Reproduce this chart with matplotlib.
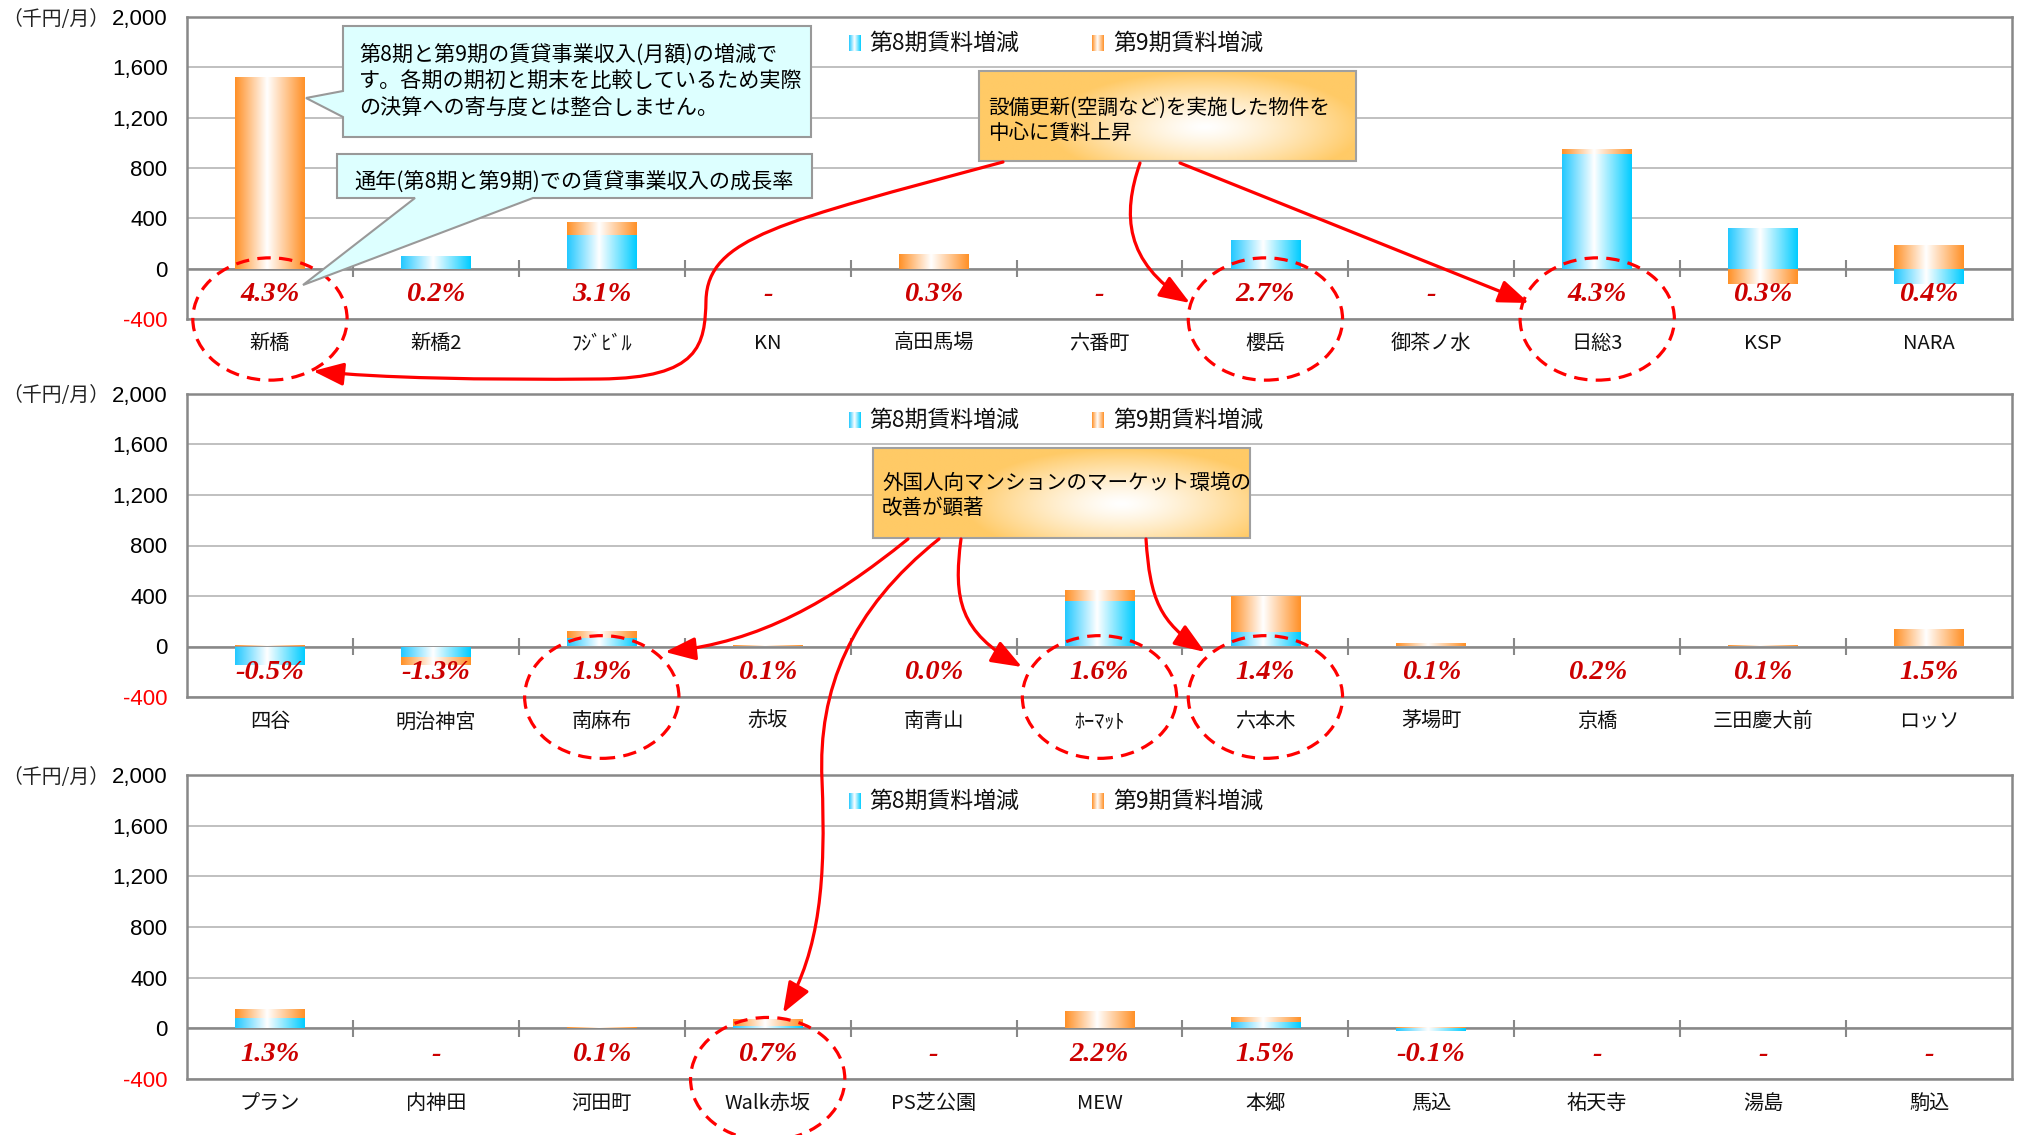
import numpy as np
import matplotlib
matplotlib.use('Agg')
import matplotlib.pyplot as plt
from matplotlib.patches import Rectangle, Ellipse, FancyArrowPatch, Polygon
from matplotlib.path import Path
from matplotlib.colors import LinearSegmentedColormap, to_rgb
import matplotlib.transforms as mtransforms

plt.rcParams['font.family'] = ['Noto Sans CJK JP', 'DejaVu Sans']

# ---------------- data ----------------
names_1 = ['新橋', '新橋2', 'ﾌｼﾞﾋﾞﾙ', 'KN', '高田馬場', '六番町', '櫻岳', '御茶ノ水', '日総3', 'KSP', 'NARA']
q8_1 = [0, 100, 270, 0, 0, 0, 230, 0, 910, 325, -120]
q9_1 = [1520, 0, 100, 0, 120, 0, 0, 0, 40, -120, 185]
rate_1 = ['4.3%', '0.2%', '3.1%', '-', '0.3%', '-', '2.7%', '-', '4.3%', '0.3%', '0.4%']

names_2 = ['四谷', '明治神宮', '南麻布', '赤坂', '南青山', 'ﾎｰﾏｯﾄ', '六本木', '茅場町', '京橋', '三田慶大前', 'ロッソ']
q8_2 = [-150, -80, 70, 0, 5, 360, 113, 0, 5, 0, 0]
q9_2 = [12, -70, 50, 10, 0, 85, 285, 25, 0, 8, 135]
rate_2 = ['-0.5%', '-1.3%', '1.9%', '0.1%', '0.0%', '1.6%', '1.4%', '0.1%', '0.2%', '0.1%', '1.5%']

names_3 = ['プラン', '内神田', '河田町', 'Walk赤坂', 'PS芝公園', 'MEW', '本郷', '馬込', '祐天寺', '湯島', '駒込']
q8_3 = [85, 0, 0, 20, 0, 0, 52, -20, 0, 0, 0]
q9_3 = [68, 0, 12, 55, 0, 138, 40, 10, 0, 0, 0]
rate_3 = ['1.3%', '-', '0.1%', '0.7%', '-', '2.2%', '1.5%', '-0.1%', '-', '-', '-']

highlight_1 = [0, 6, 8]
highlight_2 = [2, 5, 6]
highlight_3 = [3]

yticks = [-400, 0, 400, 800, 1200, 1600, 2000]
ytick_labels = ['-400', '0', '400', '800', '1,200', '1,600', '2,000']
legend_labels = ['第8期賃料増減', '第9期賃料増減']
unit_label = '（千円/月）'

note_1 = '第8期と第9期の賃貸事業収入(月額)の増減で\nす。各期の期初と期末を比較しているため実際\nの決算への寄与度とは整合しません。'
note_2 = '通年(第8期と第9期)での賃貸事業収入の成長率'
note_3 = '設備更新(空調など)を実施した物件を\n中心に賃料上昇'
note_4 = '外国人向マンションのマーケット環境の\n改善が顕著'

# ---------------- style ----------------
W, H = 2020, 1135
AX_L, AX_R = 187, 2012
PANELS = [(17, 319), (394, 697), (775, 1079)]
BAR_W = 0.42
BLUE = '#00CCFF'
ORANGE = '#FF9026'
RED = '#FF0000'
PCT_RED = '#CC0000'
FRAME = '#888888'
GRID = '#C0C0C0'

CMAP_B = LinearSegmentedColormap.from_list('b', [(0, '#22C8FF'), (0.46, '#FFFFFF'), (1, BLUE)])
CMAP_O = LinearSegmentedColormap.from_list('o', [(0, ORANGE), (0.46, '#FFFFFF'), (1, ORANGE)])
GRAD = np.linspace(0, 1, 256).reshape(1, -1)

fig = plt.figure(figsize=(W / 100, H / 100), dpi=100)


def grad_fill(ax, rect, cmap):
    x0, w = rect.get_x(), rect.get_width()
    y0, h = rect.get_y(), rect.get_height()
    if h == 0:
        return
    lo, hi = min(y0, y0 + h), max(y0, y0 + h)
    im = ax.imshow(GRAD, cmap=cmap, aspect='auto', extent=[x0, x0 + w, lo, hi],
                   origin='lower', interpolation='bilinear', zorder=2)
    im.set_clip_path(rect)


def draw_panel(ax, names, q8, q9, rates, highlights):
    n = len(names)
    x = np.arange(n)
    q8 = np.asarray(q8, float)
    q9 = np.asarray(q9, float)
    b9 = np.where(np.sign(q9) == np.sign(q8), q8, 0.0)
    bars8 = ax.bar(x, q8, width=BAR_W, color='none', edgecolor='none', zorder=2)
    bars9 = ax.bar(x, q9, bottom=b9, width=BAR_W, color='none', edgecolor='none', zorder=2)
    for r in bars8:
        grad_fill(ax, r, CMAP_B)
    for r in bars9:
        grad_fill(ax, r, CMAP_O)

    ax.set_xlim(-0.5, n - 0.5)
    ax.set_ylim(yticks[0], yticks[-1])
    ax.set_yticks(yticks)
    ax.set_yticklabels(ytick_labels, fontfamily=['Liberation Sans', 'DejaVu Sans'], fontsize=16)
    ax.get_yticklabels()[0].set_color('#FF0000')
    ax.tick_params(axis='y', length=0, pad=14)
    ax.set_xticks([])
    ax.yaxis.grid(True, color=GRID, lw=1.4, zorder=0)
    ax.set_axisbelow(True)
    for s in ax.spines.values():
        s.set_color(FRAME)
        s.set_linewidth(1.8)
    ax.axhline(0, color=FRAME, lw=1.8, zorder=1.5)
    ax.vlines(np.arange(n - 1) + 0.5, -65, 65, color=FRAME, lw=1.5, zorder=1.5)

    bt = mtransforms.blended_transform_factory(ax.transData, ax.transAxes)
    for i in range(n):
        ax.text(i, -205, rates[i], color=PCT_RED, fontfamily=['Liberation Serif', 'DejaVu Serif'],
                fontweight='bold', fontstyle='italic', fontsize=20.5, ha='center', va='center', zorder=4)
        ax.text(i, -0.082, names[i], transform=bt, fontsize=14.5, ha='center', va='center',
                color='#111111')
    for i in highlights:
        ax.add_patch(Ellipse((i, 0.0), width=0.93, height=0.405, transform=bt, fill=False,
                             edgecolor=RED, lw=2.3, linestyle=(0, (4.2, 2.6)), clip_on=False, zorder=6))


panel_data = [(names_1, q8_1, q9_1, rate_1, highlight_1),
              (names_2, q8_2, q9_2, rate_2, highlight_2),
              (names_3, q8_3, q9_3, rate_3, highlight_3)]
for (top, bot), d in zip(PANELS, panel_data):
    ax = fig.add_axes([AX_L / W, 1 - bot / H, (AX_R - AX_L) / W, (bot - top) / H])
    draw_panel(ax, *d)
    fig.text(2 / W, 1 - (top + 2) / H, unit_label, fontsize=14.3, ha='left', va='center', color='#222222')

# ---------------- overlay (annotations) ----------------
ov = fig.add_axes([0, 0, 1, 1], zorder=10)
ov.set_xlim(0, W)
ov.set_ylim(H, 0)
ov.axis('off')
ov.patch.set_alpha(0)

# legends
for top, _ in PANELS:
    yc = top + 26
    for k, (px, tx, cmap) in enumerate([(849, 869, CMAP_B), (1092, 1113, CMAP_O)]):
        ov.imshow(GRAD, cmap=cmap, aspect='auto', extent=(px, px + 12, yc + 8, yc - 8),
                  interpolation='bilinear', zorder=2)
        ov.text(tx, yc, legend_labels[k], fontsize=16.5, ha='left', va='center', color='#111111')

# cyan callouts
CYAN = '#DDFFFF'
c1 = Polygon([(343, 26), (811, 26), (811, 137), (343, 137), (343, 117), (306, 98), (343, 91)],
             closed=True, facecolor=CYAN, edgecolor='#999999', lw=1.5, zorder=3)
ov.add_patch(c1)
for j, line in enumerate(note_1.split('\n')):
    ov.text(359, 55 + j * 26.5, line, fontsize=15.2, ha='left', va='center', zorder=4)
c2 = Polygon([(337, 154), (812, 154), (812, 198), (533, 198), (303, 285), (415, 198), (337, 198)],
             closed=True, facecolor=CYAN, edgecolor='#999999', lw=1.5, zorder=3)
ov.add_patch(c2)
ov.text(354, 182, note_2, fontsize=15.2, ha='left', va='center', zorder=4)


def glow_box(x0, y0, x1, y1, cx, cy, text, tx, ty):
    nx, ny = 300, 80
    X, Y = np.meshgrid(np.linspace(0, 1, nx), np.linspace(0, 1, ny))
    d = np.sqrt(((X - cx) / 0.42) ** 2 + ((Y - cy) / 0.62) ** 2)
    t = np.clip(d, 0, 1) ** 1.3
    base = np.array(to_rgb('#FFCA66'))
    img = (1 - t)[..., None] * np.ones(3) + t[..., None] * base
    ov.imshow(img, extent=(x0, x1, y1, y0), origin='upper', aspect='auto',
              interpolation='bilinear', zorder=3)
    ov.add_patch(Rectangle((x0, y0), x1 - x0, y1 - y0, fill=False, ec='#A0A0A0', lw=1.5, zorder=3.5))
    for j, line in enumerate(text.split('\n')):
        ov.text(tx, ty + j * 25, line, fontsize=14.8, ha='left', va='center', zorder=4)


glow_box(979, 71, 1356, 161, 0.6, 0.62, note_3, 988, 108)
glow_box(873, 448, 1250, 538, 0.66, 0.62, note_4, 882, 483)

ov.set_xlim(0, W)
ov.set_ylim(H, 0)

ASTYLE = '-|>,head_length=0.85,head_width=0.32'


def curve_arrow(pts):
    codes = [Path.MOVETO] + [Path.CURVE4] * (len(pts) - 1)
    p = Path(pts, codes)
    ov.add_patch(FancyArrowPatch(path=p, arrowstyle=ASTYLE, mutation_scale=22, color=RED,
                                 lw=2.3, zorder=5))


# box 1 arrows
curve_arrow([(1003, 162), (780, 222), (708, 238), (706, 300),
             (705, 345), (700, 378), (600, 379),
             (480, 380), (380, 378), (313, 371)])
curve_arrow([(1140, 163), (1122, 215), (1125, 262), (1190, 303)])
ov.add_patch(FancyArrowPatch((1180, 163), (1529, 303), arrowstyle=ASTYLE, mutation_scale=22,
                             color=RED, lw=2.3, shrinkA=0, shrinkB=0, zorder=5))
# box 2 arrows
curve_arrow([(908, 539), (830, 602), (760, 642), (665, 652)])
curve_arrow([(939, 539), (850, 610), (818, 690), (822, 780),
             (826, 880), (820, 950), (783, 1013)])
curve_arrow([(961, 539), (953, 600), (960, 632), (1022, 667)])
curve_arrow([(1146, 539), (1150, 600), (1160, 622), (1205, 652)])

fig.savefig('out.png', dpi=100, facecolor='white')
